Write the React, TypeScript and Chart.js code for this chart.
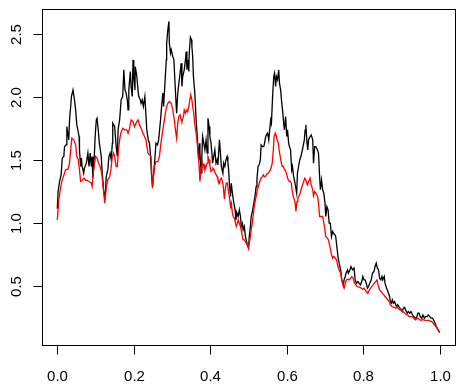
import React, { useEffect, useRef } from "react";
import { Chart, registerables } from "chart.js";

Chart.register(...registerables);

// x tick values and y tick values (R-style axes)
const xTicks = [0, 0.2, 0.4, 0.6, 0.8, 1.0];
const xTickLabels = ["0.0", "0.2", "0.4", "0.6", "0.8", "1.0"];
const yTicks = [0.5, 1.0, 1.5, 2.0, 2.5];
const yTickLabels = ["0.5", "1.0", "1.5", "2.0", "2.5"];

// Black series: [x, y]
const blackSeries: number[][] = [
  [0.000, 1.114], [0.002, 1.251], [0.006, 1.331], [0.010, 1.384], [0.013, 1.516], [0.017, 1.529],
  [0.019, 1.608], [0.023, 1.622], [0.025, 1.767], [0.030, 1.661], [0.032, 1.820], [0.035, 1.926],
  [0.037, 2.005], [0.041, 2.058], [0.045, 1.979], [0.048, 1.899], [0.051, 1.780], [0.057, 1.688],
  [0.058, 1.582], [0.061, 1.450], [0.063, 1.516], [0.065, 1.450], [0.069, 1.397], [0.071, 1.437],
  [0.076, 1.476], [0.080, 1.556], [0.083, 1.450], [0.086, 1.556], [0.089, 1.450], [0.091, 1.529],
  [0.093, 1.357], [0.096, 1.476], [0.099, 1.688], [0.102, 1.820], [0.104, 1.833], [0.107, 1.741],
  [0.110, 1.635], [0.115, 1.529], [0.117, 1.423], [0.121, 1.265], [0.124, 1.198], [0.126, 1.251],
  [0.128, 1.370], [0.132, 1.423], [0.135, 1.529], [0.138, 1.556], [0.141, 1.503], [0.144, 1.635],
  [0.145, 1.794], [0.150, 1.767], [0.154, 1.608], [0.157, 1.529], [0.159, 1.741], [0.163, 1.820],
  [0.165, 1.899], [0.167, 1.979], [0.171, 2.005], [0.174, 2.217], [0.177, 2.058], [0.180, 2.032],
  [0.183, 1.979], [0.185, 1.899], [0.187, 2.058], [0.191, 2.204], [0.193, 2.085], [0.196, 2.005],
  [0.198, 2.296], [0.200, 2.164], [0.203, 2.058], [0.204, 2.243], [0.208, 2.164], [0.211, 2.058],
  [0.213, 2.005], [0.217, 1.979], [0.219, 1.952], [0.222, 1.979], [0.225, 1.926], [0.229, 2.005],
  [0.231, 1.899], [0.234, 1.741], [0.238, 1.661], [0.241, 1.635], [0.244, 1.529], [0.246, 1.397],
  [0.249, 1.291], [0.252, 1.397], [0.255, 1.503], [0.258, 1.635], [0.262, 1.622], [0.265, 1.661],
  [0.270, 1.820], [0.272, 1.899], [0.276, 2.032], [0.278, 1.926], [0.281, 2.085], [0.285, 2.296],
  [0.286, 2.429], [0.289, 2.534], [0.292, 2.601], [0.293, 2.429], [0.296, 2.349], [0.298, 2.376],
  [0.302, 2.323], [0.305, 2.296], [0.307, 2.164], [0.311, 1.926], [0.312, 1.873], [0.315, 2.032],
  [0.318, 2.111], [0.321, 2.190], [0.324, 2.270], [0.326, 2.085], [0.328, 2.164], [0.332, 2.217],
  [0.335, 2.296], [0.337, 2.362], [0.339, 2.217], [0.342, 2.296], [0.344, 2.204], [0.345, 2.349],
  [0.348, 2.476], [0.351, 2.455], [0.352, 2.402], [0.354, 2.323], [0.356, 2.164], [0.359, 2.058],
  [0.361, 1.952], [0.363, 1.820], [0.366, 1.688], [0.368, 1.582], [0.370, 1.503], [0.372, 1.635],
  [0.373, 1.556], [0.376, 1.397], [0.378, 1.529], [0.380, 1.688], [0.383, 1.635], [0.386, 1.582],
  [0.389, 1.661], [0.392, 1.556], [0.394, 1.833], [0.397, 1.767], [0.399, 1.688], [0.402, 1.635],
  [0.405, 1.529], [0.406, 1.476], [0.409, 1.529], [0.412, 1.582], [0.415, 1.476], [0.418, 1.503],
  [0.420, 1.463], [0.424, 1.661], [0.426, 1.582], [0.429, 1.450], [0.433, 1.397], [0.435, 1.476],
  [0.438, 1.450], [0.441, 1.503], [0.444, 1.529], [0.446, 1.489], [0.448, 1.423], [0.450, 1.317],
  [0.453, 1.212], [0.455, 1.317], [0.459, 1.212], [0.461, 1.172], [0.465, 1.106], [0.467, 1.026],
  [0.470, 1.079], [0.473, 1.053], [0.476, 1.106], [0.479, 1.053], [0.481, 0.974], [0.484, 1.000],
  [0.486, 0.947], [0.489, 0.974], [0.492, 0.894], [0.494, 0.868], [0.497, 0.828], [0.500, 0.802],
  [0.502, 0.894], [0.505, 0.974], [0.507, 1.053], [0.511, 1.106], [0.514, 1.159], [0.517, 1.212],
  [0.520, 1.291], [0.522, 1.344], [0.525, 1.450], [0.528, 1.463], [0.531, 1.503], [0.533, 1.622],
  [0.537, 1.608], [0.540, 1.608], [0.542, 1.635], [0.545, 1.688], [0.547, 1.701], [0.550, 1.714],
  [0.553, 1.661], [0.555, 1.728], [0.558, 1.820], [0.560, 1.794], [0.563, 2.005], [0.566, 2.164],
  [0.568, 2.190], [0.571, 2.085], [0.573, 2.164], [0.576, 2.138], [0.579, 2.217], [0.581, 2.111],
  [0.584, 2.058], [0.587, 1.952], [0.589, 1.899], [0.592, 1.794], [0.594, 1.741], [0.597, 1.847],
  [0.600, 1.688], [0.602, 1.741], [0.605, 1.635], [0.607, 1.608], [0.610, 1.582], [0.613, 1.423],
  [0.615, 1.450], [0.618, 1.370], [0.620, 1.344], [0.623, 1.291], [0.626, 1.238], [0.628, 1.397],
  [0.631, 1.450], [0.634, 1.502], [0.637, 1.529], [0.641, 1.582], [0.646, 1.661], [0.648, 1.741],
  [0.650, 1.780], [0.653, 1.635], [0.655, 1.582], [0.657, 1.661], [0.661, 1.688], [0.664, 1.701],
  [0.668, 1.661], [0.670, 1.476], [0.673, 1.608], [0.676, 1.608], [0.680, 1.582], [0.683, 1.556],
  [0.686, 1.370], [0.688, 1.265], [0.691, 1.344], [0.694, 1.265], [0.697, 1.238], [0.700, 1.159],
  [0.702, 1.053], [0.705, 1.132], [0.708, 1.106], [0.711, 1.000], [0.714, 1.000], [0.717, 0.894],
  [0.720, 0.934], [0.722, 0.921], [0.726, 0.907], [0.728, 0.894], [0.731, 0.815], [0.734, 0.735],
  [0.737, 0.683], [0.741, 0.629], [0.744, 0.550], [0.748, 0.510], [0.750, 0.550], [0.753, 0.577],
  [0.755, 0.603], [0.759, 0.629], [0.761, 0.603], [0.765, 0.629], [0.768, 0.656], [0.772, 0.629],
  [0.776, 0.643], [0.779, 0.550], [0.782, 0.524], [0.786, 0.537], [0.789, 0.524], [0.793, 0.510],
  [0.796, 0.537], [0.799, 0.577], [0.802, 0.550], [0.805, 0.550], [0.808, 0.524], [0.811, 0.484],
  [0.814, 0.497], [0.817, 0.524], [0.821, 0.550], [0.824, 0.603], [0.828, 0.616], [0.831, 0.656],
  [0.834, 0.683], [0.837, 0.643], [0.840, 0.629], [0.843, 0.563], [0.846, 0.550], [0.849, 0.577],
  [0.851, 0.550], [0.855, 0.577], [0.857, 0.524], [0.861, 0.484], [0.863, 0.471], [0.866, 0.444],
  [0.869, 0.418], [0.871, 0.378], [0.874, 0.365], [0.876, 0.392], [0.879, 0.365], [0.882, 0.378],
  [0.885, 0.352], [0.888, 0.339], [0.890, 0.352], [0.893, 0.339], [0.896, 0.325], [0.899, 0.312],
  [0.902, 0.299], [0.905, 0.325], [0.908, 0.333], [0.911, 0.312], [0.915, 0.286], [0.918, 0.299],
  [0.922, 0.286], [0.925, 0.299], [0.929, 0.272], [0.932, 0.259], [0.936, 0.246], [0.939, 0.246],
  [0.943, 0.286], [0.946, 0.286], [0.949, 0.259], [0.953, 0.246], [0.956, 0.272], [0.960, 0.246],
  [0.963, 0.259], [0.967, 0.259], [0.970, 0.272], [0.974, 0.259], [0.977, 0.246], [0.981, 0.246],
  [0.984, 0.233], [0.988, 0.206], [0.991, 0.180], [0.995, 0.159], [0.998, 0.140], [1.000, 0.135],
];

// Red series: [x, y]
const redSeries: number[][] = [
  [0.000, 1.026], [0.004, 1.185], [0.009, 1.291], [0.013, 1.344], [0.016, 1.370], [0.022, 1.423],
  [0.028, 1.429], [0.032, 1.476], [0.035, 1.582], [0.038, 1.675], [0.043, 1.661], [0.048, 1.622],
  [0.051, 1.529], [0.055, 1.503], [0.058, 1.423], [0.061, 1.331], [0.065, 1.339], [0.070, 1.357],
  [0.074, 1.339], [0.078, 1.339], [0.083, 1.331], [0.089, 1.317], [0.091, 1.291], [0.095, 1.423],
  [0.100, 1.529], [0.104, 1.516], [0.108, 1.476], [0.112, 1.450], [0.116, 1.397], [0.119, 1.317],
  [0.124, 1.159], [0.128, 1.278], [0.132, 1.344], [0.137, 1.370], [0.140, 1.423], [0.144, 1.529],
  [0.147, 1.556], [0.150, 1.529], [0.154, 1.450], [0.157, 1.450], [0.160, 1.582], [0.163, 1.661],
  [0.166, 1.714], [0.171, 1.754], [0.177, 1.741], [0.182, 1.741], [0.185, 1.714], [0.189, 1.754],
  [0.193, 1.820], [0.198, 1.807], [0.202, 1.767], [0.206, 1.794], [0.211, 1.820], [0.215, 1.780],
  [0.219, 1.754], [0.224, 1.714], [0.228, 1.688], [0.232, 1.661], [0.237, 1.556], [0.241, 1.542],
  [0.245, 1.529], [0.249, 1.278], [0.254, 1.450], [0.258, 1.489], [0.263, 1.489], [0.267, 1.529],
  [0.271, 1.635], [0.276, 1.741], [0.280, 1.820], [0.285, 1.913], [0.289, 1.952], [0.293, 1.966],
  [0.298, 1.952], [0.302, 1.899], [0.306, 1.820], [0.309, 1.741], [0.312, 1.675], [0.315, 1.794],
  [0.318, 1.847], [0.321, 1.860], [0.324, 1.820], [0.326, 1.807], [0.330, 1.847], [0.332, 1.899],
  [0.335, 1.873], [0.339, 1.899], [0.341, 1.886], [0.344, 1.926], [0.346, 1.966], [0.349, 2.019],
  [0.352, 1.979], [0.354, 1.926], [0.357, 1.873], [0.359, 1.794], [0.363, 1.714], [0.366, 1.635],
  [0.368, 1.556], [0.371, 1.450], [0.373, 1.331], [0.376, 1.423], [0.379, 1.476], [0.381, 1.450],
  [0.384, 1.463], [0.386, 1.423], [0.389, 1.450], [0.392, 1.476], [0.394, 1.529], [0.397, 1.503],
  [0.399, 1.450], [0.402, 1.410], [0.405, 1.423], [0.407, 1.437], [0.410, 1.423], [0.413, 1.397],
  [0.415, 1.397], [0.418, 1.370], [0.420, 1.344], [0.424, 1.317], [0.426, 1.344], [0.429, 1.357],
  [0.432, 1.331], [0.434, 1.291], [0.437, 1.190], [0.439, 1.265], [0.442, 1.317], [0.445, 1.317],
  [0.447, 1.265], [0.450, 1.212], [0.453, 1.132], [0.455, 1.159], [0.458, 1.079], [0.460, 1.053],
  [0.463, 1.040], [0.466, 1.000], [0.468, 0.974], [0.471, 1.000], [0.473, 1.026], [0.476, 1.000],
  [0.479, 0.974], [0.481, 0.947], [0.484, 0.894], [0.486, 0.868], [0.489, 0.868], [0.492, 0.854],
  [0.494, 0.841], [0.497, 0.828], [0.500, 0.802], [0.502, 0.841], [0.505, 0.894], [0.507, 0.947],
  [0.510, 1.000], [0.513, 1.079], [0.515, 1.132], [0.518, 1.185], [0.520, 1.212], [0.523, 1.265],
  [0.526, 1.291], [0.528, 1.317], [0.531, 1.344], [0.533, 1.357], [0.536, 1.370], [0.539, 1.384],
  [0.541, 1.370], [0.544, 1.370], [0.547, 1.384], [0.549, 1.392], [0.552, 1.397], [0.554, 1.410],
  [0.557, 1.423], [0.560, 1.450], [0.562, 1.476], [0.565, 1.582], [0.567, 1.688], [0.570, 1.714],
  [0.573, 1.688], [0.575, 1.661], [0.578, 1.635], [0.580, 1.582], [0.583, 1.529], [0.586, 1.476],
  [0.588, 1.450], [0.591, 1.450], [0.594, 1.423], [0.596, 1.423], [0.599, 1.397], [0.601, 1.370],
  [0.604, 1.344], [0.607, 1.331], [0.609, 1.331], [0.612, 1.317], [0.614, 1.265], [0.617, 1.212],
  [0.620, 1.185], [0.622, 1.159], [0.624, 1.093], [0.627, 1.172], [0.629, 1.198], [0.632, 1.212],
  [0.636, 1.251], [0.640, 1.291], [0.643, 1.317], [0.647, 1.357], [0.650, 1.344], [0.654, 1.304],
  [0.657, 1.331], [0.661, 1.357], [0.664, 1.304], [0.668, 1.264], [0.670, 1.217], [0.673, 1.251],
  [0.676, 1.238], [0.681, 1.211], [0.683, 1.158], [0.686, 1.053], [0.689, 1.053], [0.694, 1.053],
  [0.697, 1.000], [0.700, 0.947], [0.702, 0.894], [0.706, 0.881], [0.709, 0.867], [0.713, 0.815],
  [0.716, 0.762], [0.720, 0.722], [0.723, 0.735], [0.727, 0.722], [0.730, 0.709], [0.734, 0.656],
  [0.737, 0.629], [0.741, 0.603], [0.744, 0.550], [0.748, 0.497], [0.750, 0.484], [0.753, 0.524],
  [0.756, 0.550], [0.760, 0.555], [0.763, 0.550], [0.767, 0.563], [0.770, 0.577], [0.774, 0.563],
  [0.777, 0.524], [0.781, 0.510], [0.784, 0.497], [0.788, 0.492], [0.791, 0.492], [0.795, 0.484],
  [0.798, 0.476], [0.802, 0.484], [0.805, 0.471], [0.808, 0.458], [0.812, 0.444], [0.815, 0.465],
  [0.819, 0.484], [0.822, 0.497], [0.826, 0.510], [0.829, 0.524], [0.833, 0.537], [0.836, 0.550],
  [0.840, 0.497], [0.843, 0.471], [0.847, 0.458], [0.850, 0.444], [0.854, 0.431], [0.857, 0.418],
  [0.861, 0.405], [0.864, 0.392], [0.868, 0.378], [0.871, 0.352], [0.875, 0.339], [0.878, 0.333],
  [0.882, 0.331], [0.885, 0.325], [0.889, 0.333], [0.892, 0.323], [0.896, 0.312], [0.899, 0.318],
  [0.902, 0.307], [0.906, 0.291], [0.909, 0.286], [0.913, 0.272], [0.916, 0.272], [0.920, 0.259],
  [0.923, 0.259], [0.927, 0.259], [0.930, 0.254], [0.934, 0.238], [0.937, 0.233], [0.941, 0.246],
  [0.944, 0.243], [0.948, 0.233], [0.951, 0.228], [0.955, 0.238], [0.958, 0.233], [0.962, 0.228],
  [0.965, 0.228], [0.969, 0.228], [0.972, 0.228], [0.976, 0.220], [0.979, 0.220], [0.983, 0.206],
  [0.986, 0.193], [0.990, 0.180], [0.993, 0.167], [0.996, 0.153], [1.000, 0.132],
];

const FONT = '15px "Liberation Sans", Arial, sans-serif';

const rAxesPlugin = {
  id: "rAxes",
  afterDraw(chart: any) {
    const { ctx, chartArea } = chart;
    const xs = chart.scales.x;
    const ys = chart.scales.y;
    const L = Math.round(chartArea.left) + 0.5;
    const R = Math.round(chartArea.right) + 0.5;
    const T = Math.round(chartArea.top) + 0.5;
    const B = Math.round(chartArea.bottom) + 0.5;
    ctx.save();
    ctx.strokeStyle = "#000";
    ctx.lineWidth = 1;
    ctx.strokeRect(L, T, R - L, B - T);
    ctx.fillStyle = "#000";
    ctx.font = FONT;
    // x axis ticks
    ctx.textAlign = "center";
    ctx.textBaseline = "alphabetic";
    xTicks.forEach((v, i) => {
      const px = Math.round(xs.getPixelForValue(v)) + 0.5;
      ctx.beginPath();
      ctx.moveTo(px, B);
      ctx.lineTo(px, B + 9);
      ctx.stroke();
      ctx.fillText(xTickLabels[i], px, B + 35);
    });
    // y axis ticks
    yTicks.forEach((v, i) => {
      const py = Math.round(ys.getPixelForValue(v)) + 0.5;
      ctx.beginPath();
      ctx.moveTo(L, py);
      ctx.lineTo(L - 9, py);
      ctx.stroke();
      ctx.save();
      ctx.translate(L - 22, py);
      ctx.rotate(-Math.PI / 2);
      ctx.fillText(yTickLabels[i], 0, 0);
      ctx.restore();
    });
    ctx.restore();
  },
};

export default function App() {
  const canvasRef = useRef<HTMLCanvasElement | null>(null);

  useEffect(() => {
    if (!canvasRef.current) return;
    const allY = [...blackSeries, ...redSeries].map((p) => p[1]);
    const yMinD = Math.min(...allY);
    const yMaxD = Math.max(...allY);
    const pad = (yMaxD - yMinD) * 0.04;

    const chart = new Chart(canvasRef.current, {
      type: "line",
      data: {
        datasets: [
          {
            label: "red",
            data: redSeries.map((p) => ({ x: p[0], y: p[1] })),
            borderColor: "#ff0000",
            borderWidth: 1.3,
            pointRadius: 0,
            tension: 0,
            fill: false,
            order: 1,
          },
          {
            label: "black",
            data: blackSeries.map((p) => ({ x: p[0], y: p[1] })),
            borderColor: "#000000",
            borderWidth: 1.3,
            pointRadius: 0,
            tension: 0,
            fill: false,
            order: 2,
          },
        ],
      },
      options: {
        animation: false,
        responsive: false,
        devicePixelRatio: 1,
        layout: { padding: { left: 42, top: 9, right: 10, bottom: 47 } },
        scales: {
          x: { type: "linear", min: -0.04, max: 1.04, display: false },
          y: { type: "linear", min: yMinD - pad, max: yMaxD + pad, display: false },
        },
        plugins: {
          legend: { display: false },
          tooltip: { enabled: false },
        },
      },
      plugins: [rAxesPlugin],
    });
    return () => chart.destroy();
  }, []);

  return (
    <div style={{ position: "fixed", left: 0, top: 0, width: 465, height: 392, background: "#fff" }}>
      <canvas ref={canvasRef} width={465} height={392} style={{ display: "block" }} />
    </div>
  );
}
